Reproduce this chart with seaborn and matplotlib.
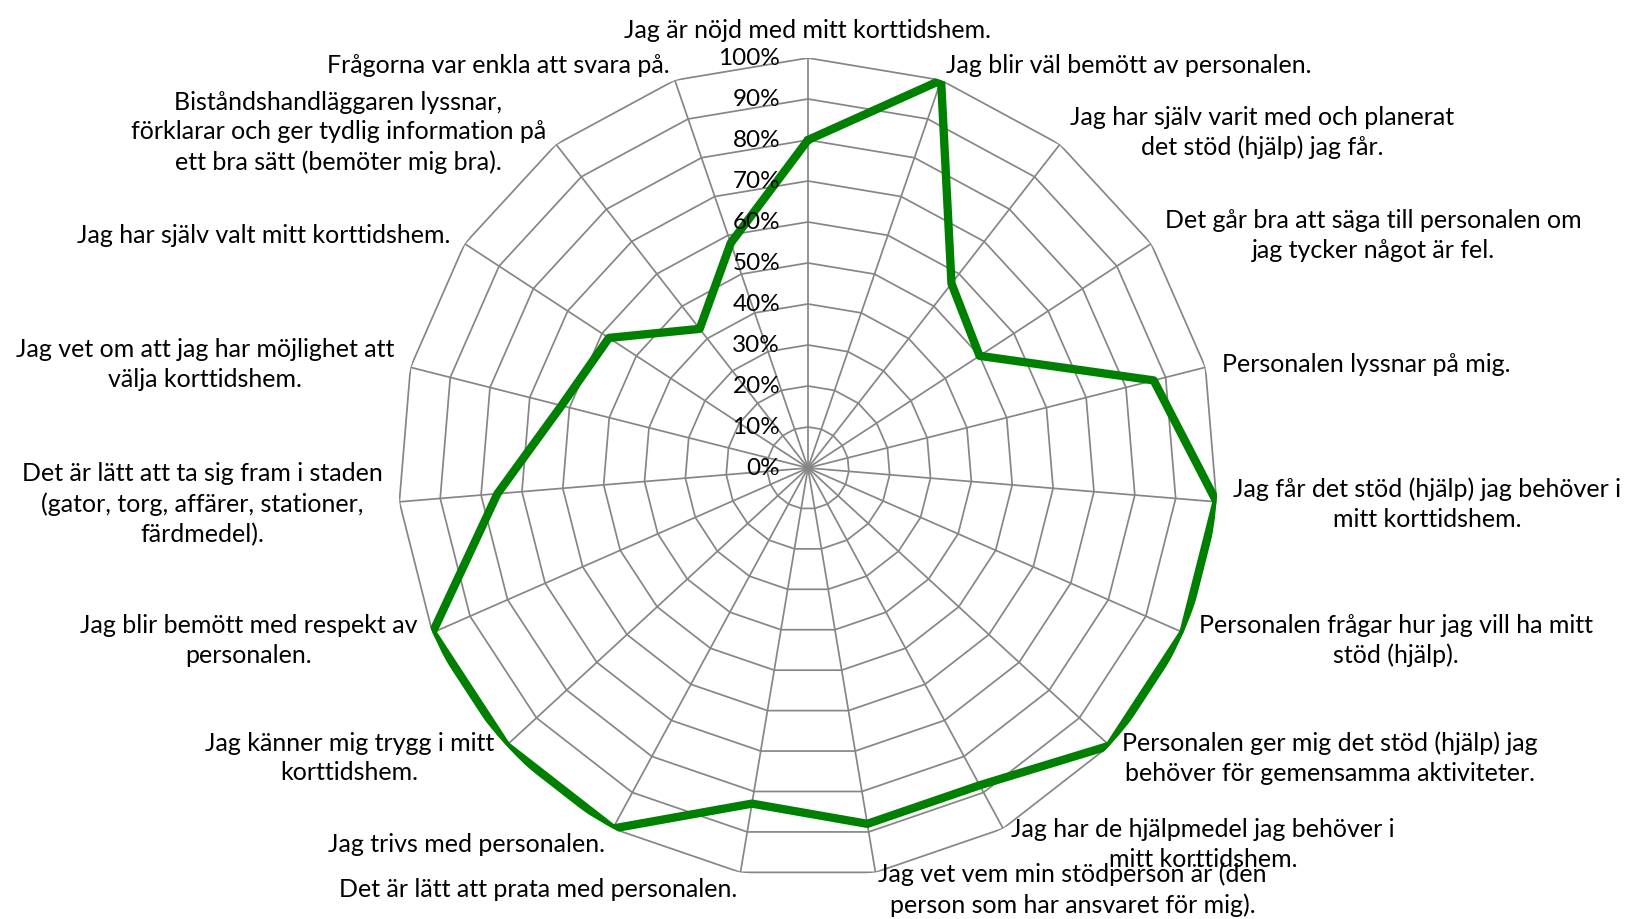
import numpy as np
import matplotlib
matplotlib.use("Agg")
import matplotlib.pyplot as plt
import seaborn as sns

# Data
categories = [
    "Jag är nöjd med mitt korttidshem.",
    "Jag blir väl bemött av personalen.",
    "Jag har själv varit med och planerat\ndet stöd (hjälp) jag får.",
    "Det går bra att säga till personalen om\njag tycker något är fel.",
    "Personalen lyssnar på mig.",
    "Jag får det stöd (hjälp) jag behöver i\nmitt korttidshem.",
    "Personalen frågar hur jag vill ha mitt\nstöd (hjälp).",
    "Personalen ger mig det stöd (hjälp) jag\nbehöver för gemensamma aktiviteter.",
    "Jag har de hjälpmedel jag behöver i\nmitt korttidshem.",
    "Jag vet vem min stödperson är (den\nperson som har ansvaret för mig).",
    "Det är lätt att prata med personalen.",
    "Jag trivs med personalen.",
    "Jag känner mig trygg i mitt\nkorttidshem.",
    "Jag blir bemött med respekt av\npersonalen.",
    "Det är lätt att ta sig fram i staden\n(gator, torg, affärer, stationer,\nfärdmedel).",
    "Jag vet om att jag har möjlighet att\nvälja korttidshem.",
    "Jag har själv valt mitt korttidshem.",
    "Biståndshandläggaren lyssnar,\nförklarar och ger tydlig information på\nett bra sätt (bemöter mig bra).",
    "Frågorna var enkla att svara på.",
]
values = [0.80, 1.00, 0.57, 0.50, 0.87, 1.00, 1.00, 1.00, 0.88, 0.88,
          0.83, 1.00, 1.00, 1.00, 0.76, 0.62, 0.58, 0.43, 0.58]
levels = [0.0, 0.1, 0.2, 0.3, 0.4, 0.5, 0.6, 0.7, 0.8, 0.9, 1.0]
tick_labels = ["0%", "10%", "20%", "30%", "40%", "50%", "60%", "70%", "80%", "90%", "100%"]

sns.set_style("white")
plt.rcParams['font.family'] = ['Lato', 'DejaVu Sans']

n = len(categories)
angles = np.linspace(0, 2 * np.pi, n, endpoint=False)
closed_angles = np.append(angles, 2 * np.pi)

fig = plt.figure(figsize=(16.25, 9.2), dpi=100)
ax = fig.add_axes([0.2449, 0.0446, 0.5046, 0.8913], projection='polar')
ax.set_theta_zero_location('N')
ax.set_theta_direction(-1)
ax.axis('off')

grid_color = '#868686'
# polygon rings
for lv in levels[1:]:
    ax.plot(closed_angles, [lv] * (n + 1), color=grid_color, lw=1.25, zorder=1)
# spokes
for a in angles:
    ax.plot([a, a], [0, 1], color=grid_color, lw=1.25, zorder=1)

# data line
sns.lineplot(x=closed_angles, y=values + values[:1], ax=ax, sort=False,
             color='#008000', linewidth=6, zorder=3)
ax.set_ylim(0, 1)

# tick labels along the top spoke
for lv, lab in zip(levels, tick_labels):
    ax.annotate(lab, xy=(0, lv), xytext=(-20, 0), textcoords='offset points',
                ha='right', va='center', fontsize=17.5, color='black')

# category labels
for a, cat in zip(angles, categories):
    s, c = np.sin(a), np.cos(a)
    if abs(s) < 0.05:
        ha = 'center'
        va = 'bottom' if c > 0 else 'top'
    else:
        ha = 'left' if s > 0 else 'right'
        va = 'center'
    ax.annotate(cat, xy=(a, 1.0), xytext=(12 * s, 12 * c),
                textcoords='offset points', ha=ha, va=va,
                multialignment='center', linespacing=1.35,
                fontsize=18, color='black')

fig.savefig('out.png', dpi=100, facecolor='white')
